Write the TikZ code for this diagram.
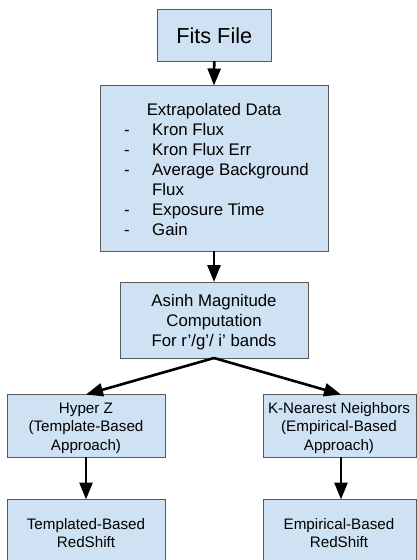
\documentclass[tikz,border=0pt]{standalone}
\usepackage{fontspec}
\setmainfont{Liberation Sans}
\usetikzlibrary{arrows.meta}
\definecolor{boxfill}{HTML}{CFE2F3}
\definecolor{boxline}{HTML}{595959}
\tikzset{
  box/.style={draw=boxline, fill=boxfill, line width=0.8pt, inner sep=0pt},
  txt/.style={font=\fontsize{16.8}{20}\selectfont, inner sep=0pt, align=center, anchor=base},
  stxt/.style={font=\fontsize{15.2}{18.3}\selectfont, inner sep=0pt, align=center, anchor=base},
  arr/.style={line width=2.6pt, -{Triangle[width=13pt,length=17pt]}},
}
\begin{document}
\begin{tikzpicture}[x=1pt,y=-1pt]
\useasboundingbox (0,0) rectangle (416,560);
% boxes
\draw[box] (157.5,9.5) rectangle (271,61);
\node[txt, font=\fontsize{21.7}{24}\selectfont] (fits) at (214.25,43.3) {Fits File};
\coordinate (fitsB) at (214.25,61);

\draw[box] (100,85.5) rectangle (328,251);
\coordinate (extT) at (214,85.5);
\coordinate (extB) at (214,251);
\node[txt] (exttitle) at (214,115) {Extrapolated Data};
\foreach \y/\t [count=\i] in {135/Kron Flux,155/Kron Flux Err,175/Average Background,215/Exposure Time,235/Gain}{
  \node[txt] (dash\i) at (127,\y) {-};
  \node[txt, anchor=base west] (item\i) at (152,\y) {\t};
}
\node[txt, anchor=base west] (itemflux) at (152,195) {Flux};

\draw[box] (120,282) rectangle (308,358);
\node[txt] (asinh) at (214,346.7) {Asinh Magnitude\\Computation\\For r’/g’/ i’ bands};
\coordinate (asT) at (214,282);
\coordinate (asB) at (214,358);

\draw[box] (7.5,394.5) rectangle (165,457);
\node[stxt] (hyper) at (86,450) {Hyper Z\\(Template-Based\\Approach)};
\coordinate (hyT) at (86,394.5);
\coordinate (hyB) at (86,457);

\draw[box] (263,394.5) rectangle (416.5,457);
\node[stxt] (knn) at (339,450) {K-Nearest Neighbors\\(Empirical-Based\\Approach)};
\coordinate (knT) at (341,394.5);
\coordinate (knB) at (341,457);

\draw[box] (7.5,499.5) rectangle (165,562);
\node[stxt] (tmpl) at (86,547.3) {Templated-Based\\RedShift};
\coordinate (tmT) at (86,499.5);

\draw[box] (263,499.5) rectangle (416.5,562);
\node[stxt] (emp) at (339,547.3) {Empirical-Based\\RedShift};
\coordinate (emT) at (341,499.5);

% arrows
\draw[arr] (fitsB) -- (extT);
\draw[arr] (extB) -- (asT);
\draw[arr] (asB) -- (hyT);
\draw[arr] (asB) -- (knT);
\draw[arr] (hyB) -- (tmT);
\draw[arr] (knB) -- (emT);
\end{tikzpicture}
\end{document}
